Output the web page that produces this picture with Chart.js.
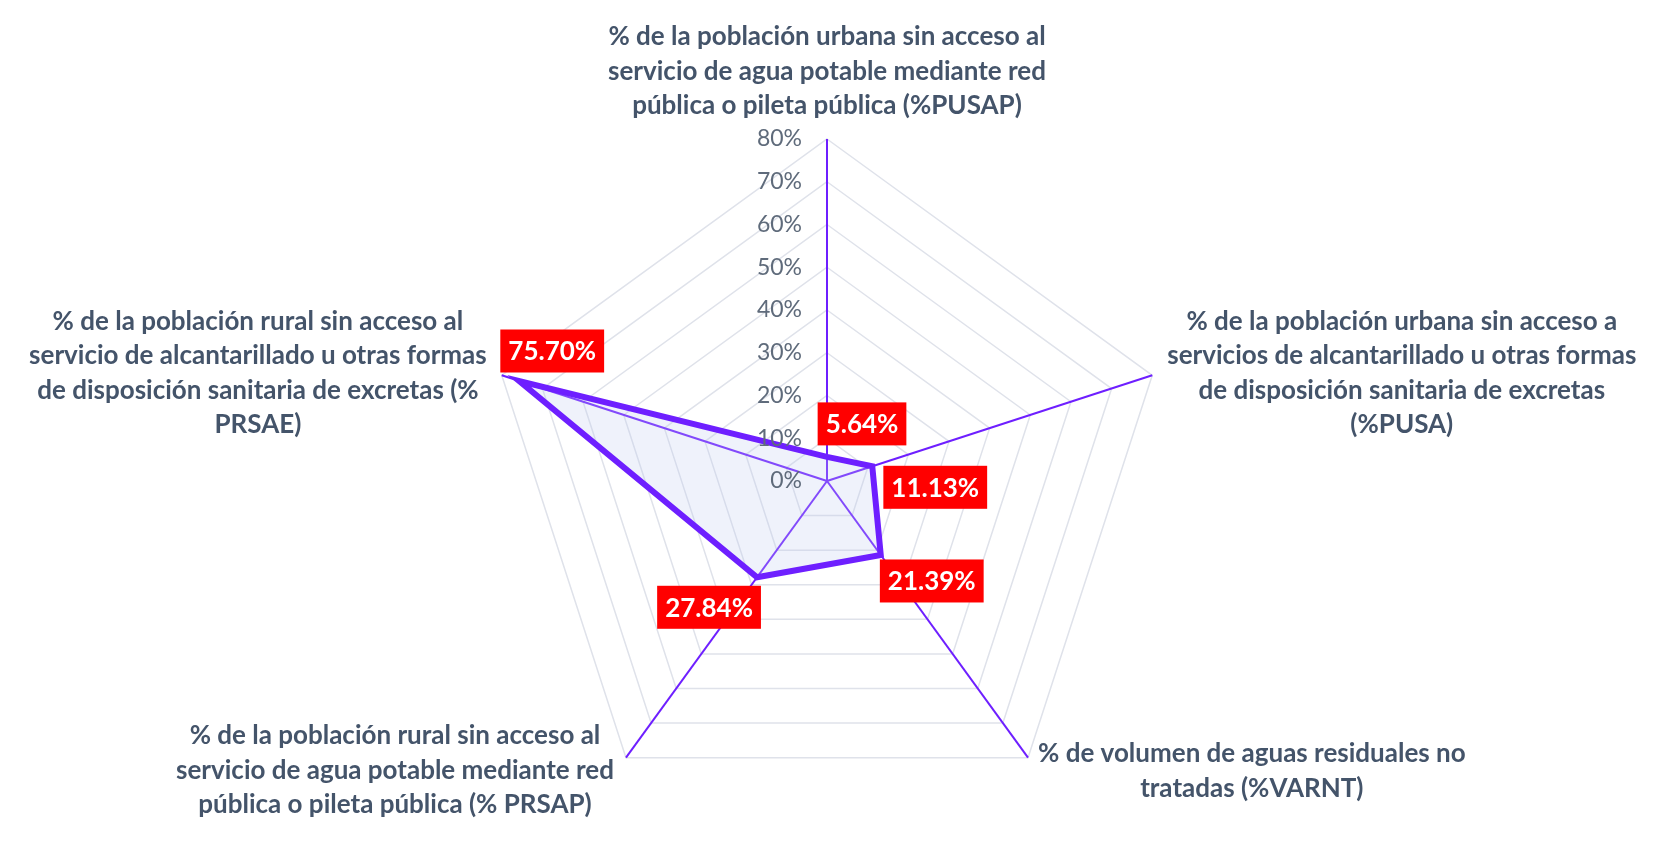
<!DOCTYPE html>
<html lang="es">
<head>
<meta charset="utf-8">
<title>Radar saneamiento</title>
<script src="https://cdn.jsdelivr.net/npm/chart.js@4.4.1/dist/chart.umd.min.js"></script>
<style>
  html, body { margin: 0; padding: 0; background: #fff; }
  canvas { display: block; }
</style>
</head>
<body>
<canvas id="radarChart" width="1666" height="857"></canvas>
<script>
// Data
const categories = [
    ['% de la población urbana sin acceso al', 'servicio de agua potable mediante red', 'pública o pileta pública (%PUSAP)'],
    ['% de la población urbana sin acceso a', 'servicios de alcantarillado u otras formas', 'de disposición sanitaria de excretas', '(%PUSA)'],
    ['% de volumen de aguas residuales no', 'tratadas (%VARNT)'],
    ['% de la población rural sin acceso al', 'servicio de agua potable mediante red', 'pública o pileta pública (% PRSAP)'],
    ['% de la población rural sin acceso al', 'servicio de alcantarillado u otras formas', 'de disposición sanitaria de excretas (%', 'PRSAE)']
];
const values = [5.64, 11.13, 21.39, 27.84, 75.70];
const tickLabels = ['0%', '10%', '20%', '30%', '40%', '50%', '60%', '70%', '80%'];

const PURPLE = '#6E1FFF';
const LABEL_FONT = '"Lato", "Open Sans", sans-serif';

// where each axis title sits relative to the axis tip
const titleLayout = [
    { align: 'center', dx: 0, dy: -102 },
    { align: 'left', dx: 15, dy: -54 },
    { align: 'left', dx: 10, dy: -4 },
    { align: 'right', dx: -12, dy: -22 },
    { align: 'right', dx: -15, dy: -54 }
];
// where each value box sits relative to its point
const valueBoxOffset = [
    [35, -33], [63, 21], [51, 26], [-48, 30], [33, -30]
];

const radarDecor = {
    id: 'radarDecor',
    afterDatasetsDraw(chart) {
        const ctx = chart.ctx;
        const scale = chart.scales.r;
        const cx = scale.xCenter;
        const cy = scale.yCenter;

        // radial tick labels, to the left of the vertical axis
        ctx.save();
        ctx.font = '23px ' + LABEL_FONT;
        ctx.fillStyle = '#5f6b7b';
        ctx.textAlign = 'right';
        ctx.textBaseline = 'middle';
        scale.ticks.forEach((t, i) => {
            const y = cy - scale.getDistanceFromCenterForValue(t.value);
            ctx.fillText(tickLabels[i], cx - 25, y);
        });
        ctx.restore();

        // axis titles
        ctx.save();
        ctx.font = 'bold 26px ' + LABEL_FONT;
        ctx.fillStyle = '#44546a';
        ctx.textBaseline = 'middle';
        ctx.textAlign = 'center';
        categories.forEach((lines, i) => {
            const tip = scale.getPointPosition(i, scale.drawingArea);
            const lay = titleLayout[i];
            const w = Math.max(...lines.map(l => ctx.measureText(l).width));
            let mid = tip.x + lay.dx;
            if (lay.align === 'left') mid += w / 2;
            if (lay.align === 'right') mid -= w / 2;
            lines.forEach((l, k) => {
                ctx.fillText(l, mid, tip.y + lay.dy + k * 34.5);
            });
        });
        ctx.restore();

        // value boxes
        const meta = chart.getDatasetMeta(0);
        ctx.save();
        ctx.font = 'bold 26px ' + LABEL_FONT;
        ctx.textAlign = 'center';
        ctx.textBaseline = 'middle';
        meta.data.forEach((pt, i) => {
            const text = values[i].toFixed(2) + '%';
            const bx = pt.x + valueBoxOffset[i][0];
            const by = pt.y + valueBoxOffset[i][1];
            const w = ctx.measureText(text).width + 16;
            const h = 43;
            ctx.fillStyle = '#ff0000';
            ctx.fillRect(bx - w / 2, by - h / 2, w, h);
            ctx.fillStyle = '#ffffff';
            ctx.fillText(text, bx, by + 1);
        });
        ctx.restore();
    }
};

const ctxRadar = document.getElementById('radarChart').getContext('2d');
const radarChart = new Chart(ctxRadar, {
    type: 'radar',
    data: {
        labels: categories,
        datasets: [{
            data: values,
            borderColor: PURPLE,
            borderWidth: 6,
            backgroundColor: 'rgba(190, 205, 238, 0.25)',
            fill: true,
            pointRadius: 0,
            pointHoverRadius: 0
        }]
    },
    options: {
        responsive: false,
        animation: false,
        layout: { padding: { top: 139, bottom: 34, left: 0, right: 12 } },
        plugins: {
            legend: { display: false },
            tooltip: { enabled: false }
        },
        scales: {
            r: {
                min: 0,
                max: 80,
                ticks: { stepSize: 10, display: false },
                pointLabels: { display: false },
                grid: { color: '#dfe2ea', lineWidth: 1.5 },
                angleLines: { color: PURPLE, lineWidth: 2 }
            }
        }
    },
    plugins: [radarDecor]
});
</script>
</body>
</html>
